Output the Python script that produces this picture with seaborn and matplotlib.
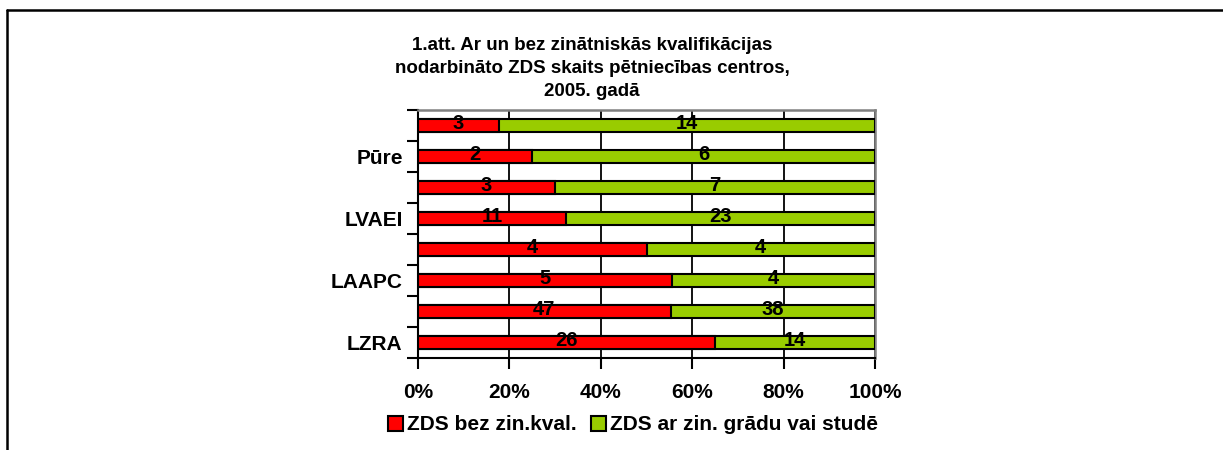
import matplotlib
matplotlib.use("Agg")
import numpy as np
import pandas as pd
import seaborn as sns
import matplotlib.pyplot as plt
from matplotlib.lines import Line2D
from matplotlib.patches import Patch

# Data (top to bottom as drawn)
category_ids = ["c1", "Pūre", "c3", "LVAEI", "c5", "LAAPC", "c7", "LZRA"]
shown_labels = ["", "Pūre", "", "LVAEI", "", "LAAPC", "", "LZRA"]
bez_kval = [3, 2, 3, 11, 4, 5, 47, 26]
ar_gradu = [14, 6, 7, 23, 4, 4, 38, 14]
series_names = ["ZDS bez zin.kval.", "ZDS ar zin. grādu vai studē"]
x_ticks = [0, 20, 40, 60, 80, 100]
title = "1.att. Ar un bez zinātniskās kvalifikācijas\nnodarbināto ZDS skaits pētniecības centros,\n2005. gadā"

RED = "#FF0000"
GREEN = "#99CC00"

sns.set_theme(style="white")
plt.rcParams["font.family"] = ["Liberation Sans", "DejaVu Sans"]
plt.rcParams["font.weight"] = "bold"
plt.rcParams["text.color"] = "black"
plt.rcParams["xtick.color"] = "black"
plt.rcParams["ytick.color"] = "black"
plt.rcParams["xtick.labelcolor"] = "black"
plt.rcParams["ytick.labelcolor"] = "black"

FS = 14.5

bez = np.array(bez_kval, dtype=float)
ar = np.array(ar_gradu, dtype=float)
tot = bez + ar
df = pd.DataFrame({
    "cat": category_ids,
    "bez_pct": bez / tot * 100,
    "total_pct": tot / tot * 100,
})

fig = plt.figure(figsize=(12.23, 4.5), dpi=100)
ax = fig.add_axes([418 / 1223, 1 - 358 / 450, (875 - 418) / 1223, (358 - 110) / 450])

sns.barplot(data=df, x="total_pct", y="cat", order=category_ids, orient="h",
            color=GREEN, saturation=1, width=0.42, edgecolor="black",
            linewidth=1.5, errorbar=None, ax=ax, zorder=3)
sns.barplot(data=df, x="bez_pct", y="cat", order=category_ids, orient="h",
            color=RED, saturation=1, width=0.42, edgecolor="black",
            linewidth=1.5, errorbar=None, ax=ax, zorder=4)

for i in range(len(category_ids)):
    bp = df["bez_pct"].iloc[i]
    ax.text(bp / 2, i - 0.05, f"{bez_kval[i]}", ha="center", va="center",
            fontsize=FS, fontweight="bold", color="black", zorder=6)
    ax.text(bp + (100 - bp) / 2, i - 0.05, f"{ar_gradu[i]}", ha="center", va="center",
            fontsize=FS, fontweight="bold", color="black", zorder=6)

ax.set_xlim(0, 100)
ax.set_ylim(len(category_ids) - 0.5, -0.5)
ax.set_xticks(x_ticks)
ax.set_xticklabels([f"{t}%" for t in x_ticks], fontsize=15, fontweight="bold")
ax.set_yticks(np.arange(-0.5, len(category_ids), 1))
ax.set_yticklabels([])
ax.set_yticks(np.arange(len(category_ids)), minor=True)
ax.set_yticklabels(shown_labels, minor=True, fontsize=15, fontweight="bold")
ax.tick_params(axis="y", which="major", length=8, width=1.5, direction="out", left=True, color="black")
ax.tick_params(axis="y", which="minor", length=0, pad=11)
ax.tick_params(axis="x", which="major", length=8, width=1.5, direction="out", bottom=True, pad=10, color="black")
ax.set_xlabel("")
ax.set_ylabel("")
ax.xaxis.grid(True, color="black", linewidth=1.3, zorder=0)
ax.yaxis.grid(False)
ax.set_axisbelow(True)
for side in ["top", "right"]:
    ax.spines[side].set_color("#808080")
    ax.spines[side].set_linewidth(1.8)
for side in ["left", "bottom"]:
    ax.spines[side].set_color("black")
    ax.spines[side].set_linewidth(1.5)

fig.text(592 / 1223, 1 - 37 / 450, title, ha="center", va="top",
         fontsize=13.5, fontweight="bold", linespacing=1.47)

handles = [Patch(facecolor=RED, edgecolor="black", linewidth=1.5),
           Patch(facecolor=GREEN, edgecolor="black", linewidth=1.5)]
fig.legend(handles, series_names, loc="center", bbox_to_anchor=(633 / 1223, 1 - 425 / 450),
           ncol=2, frameon=False, handlelength=0.7, handleheight=0.7,
           handletextpad=0.2, columnspacing=0.7,
           prop={"size": 15, "weight": "bold"})

# outer frame
fig.add_artist(Line2D([7 / 1223, 1.0], [1 - 10 / 450, 1 - 10 / 450], color="black", linewidth=1.8, transform=fig.transFigure))
fig.add_artist(Line2D([7 / 1223, 7 / 1223], [1 - 10 / 450, 0.0], color="black", linewidth=1.8, transform=fig.transFigure))

fig.savefig("out.png", dpi=100)
